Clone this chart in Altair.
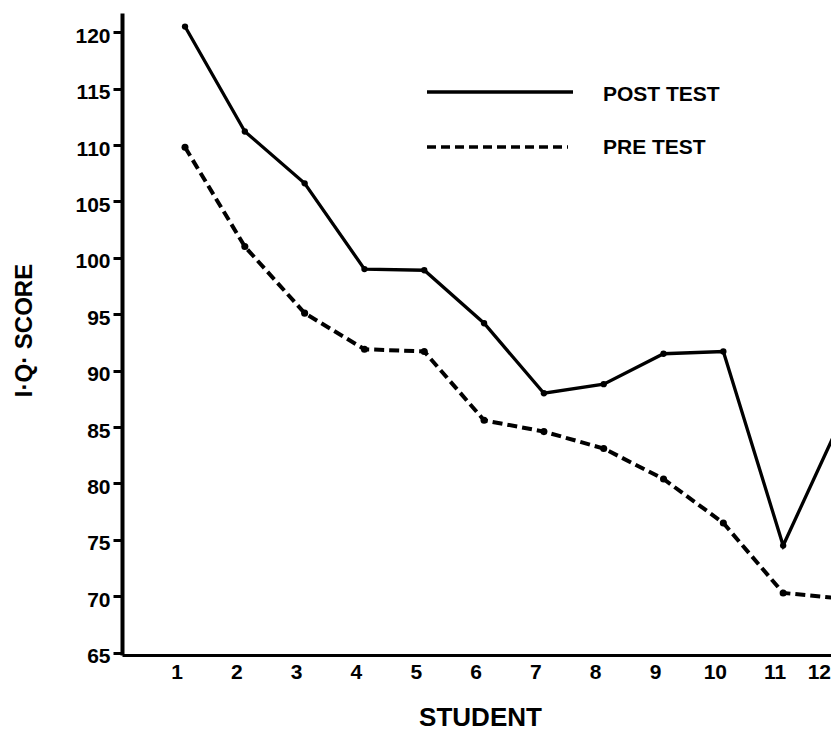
import altair as alt
import pandas as pd

# ---- data ----
students = list(range(1, 13))
post_test = [120.5, 111.2, 106.6, 99.0, 98.9, 94.2, 88.0, 88.8, 91.5, 91.7, 74.5, 86.0]
pre_test = [109.8, 101.0, 95.1, 91.9, 91.7, 85.6, 84.6, 83.1, 80.4, 76.5, 70.3, 69.8]
y_ticks = [65, 70, 75, 80, 85, 90, 95, 100, 105, 110, 115, 120]
series_names = ["POST TEST", "PRE TEST"]

df = pd.DataFrame({"student": students, "post": post_test, "pre": pre_test})
labels_df = pd.DataFrame({"student": students[:-1], "label": [str(s) for s in students[:-1]]})
last_df = pd.DataFrame({"label": [str(students[-1])]})

FONT = "Liberation Sans"
W, H = 709, 642

xscale = alt.Scale(domain=[-0.0535, 11.80], nice=False, zero=False)
yscale = alt.Scale(domain=[64.8, 121.7], nice=False, zero=False)

x_axis = alt.Axis(
    values=students[:-1], labels=False, ticks=False, domainWidth=3, domainColor="black",
    grid=False, title="STUDENT", titleFont=FONT, titleFontSize=26, titleFontWeight="bold",
    titleX=358, titleY=62, titleAlign="center", titleBaseline="middle", titleColor="black",
)
y_axis = alt.Axis(
    values=y_ticks, tickSize=9, tickWidth=3, tickColor="black", domainWidth=4,
    domainColor="black", grid=False, labelFont=FONT, labelFontSize=21, labelFontWeight="bold",
    labelColor="black", labelPadding=3, labelBaseline="top", labelOffset=-7,
    title="I·Q· SCORE", titleFont=FONT, titleFontSize=24, titleFontWeight="bold",
    titleAngle=270, titleX=-98, titleY=317, titleAlign="center", titleBaseline="middle",
    titleColor="black",
)

base = alt.Chart(df)

post_line = base.mark_line(color="black", strokeWidth=3.3, clip=True).encode(
    x=alt.X("student:Q", scale=xscale, axis=x_axis),
    y=alt.Y("post:Q", scale=yscale, axis=y_axis),
)
pre_line = base.mark_line(color="black", strokeWidth=4, strokeDash=[10, 5], clip=True).encode(
    x=alt.X("student:Q", scale=xscale),
    y=alt.Y("pre:Q", scale=yscale),
)
post_pts = base.mark_circle(color="black", size=40, opacity=1, clip=True).encode(
    x=alt.X("student:Q", scale=xscale),
    y=alt.Y("post:Q", scale=yscale),
)
pre_pts = base.mark_circle(color="black", size=50, opacity=1, clip=True).encode(
    x=alt.X("student:Q", scale=xscale),
    y=alt.Y("pre:Q", scale=yscale),
)

x_labels = alt.Chart(labels_df).mark_text(
    font=FONT, fontSize=21, fontWeight="bold", color="black", dx=-8,
    align="center", baseline="middle",
).encode(
    x=alt.X("student:Q", scale=xscale),
    y=alt.value(H + 18),
    text="label:N",
)
# last label sits at the right edge of the figure (cut off in the original scan)
x_label_last = alt.Chart(last_df).mark_text(
    font=FONT, fontSize=21, fontWeight="bold", color="black",
    align="right", baseline="middle",
).encode(x=alt.value(W), y=alt.value(H + 18), text="label:N")

leg_post = pd.DataFrame({"name": [series_names[0]]})
leg_pre = pd.DataFrame({"name": [series_names[1]]})

leg_rule_post = alt.Chart(leg_post).mark_rule(color="black", strokeWidth=3.3).encode(
    x=alt.value(305), x2=alt.value(451), y=alt.value(79)
)
leg_rule_pre = alt.Chart(leg_pre).mark_rule(color="black", strokeWidth=3.5, strokeDash=[9, 5]).encode(
    x=alt.value(305), x2=alt.value(446), y=alt.value(134)
)
leg_text_post = alt.Chart(leg_post).mark_text(
    font=FONT, fontSize=21, fontWeight="bold", color="black", align="left", baseline="middle"
).encode(x=alt.value(481), y=alt.value(82), text="name:N")
leg_text_pre = alt.Chart(leg_pre).mark_text(
    font=FONT, fontSize=21, fontWeight="bold", color="black", align="left", baseline="middle"
).encode(x=alt.value(481), y=alt.value(135), text="name:N")

chart = alt.layer(
    post_line, pre_line, post_pts, pre_pts, x_labels, x_label_last,
    leg_rule_post, leg_rule_pre, leg_text_post, leg_text_pre,
).properties(
    width=W, height=H,
    autosize=alt.AutoSizeParams(type="none"),
    padding={"left": 114, "top": 5, "right": 0, "bottom": 76},
    background="white",
).configure_view(stroke=None)

chart.save("out.html", embed_options={"renderer": "svg", "actions": False})
